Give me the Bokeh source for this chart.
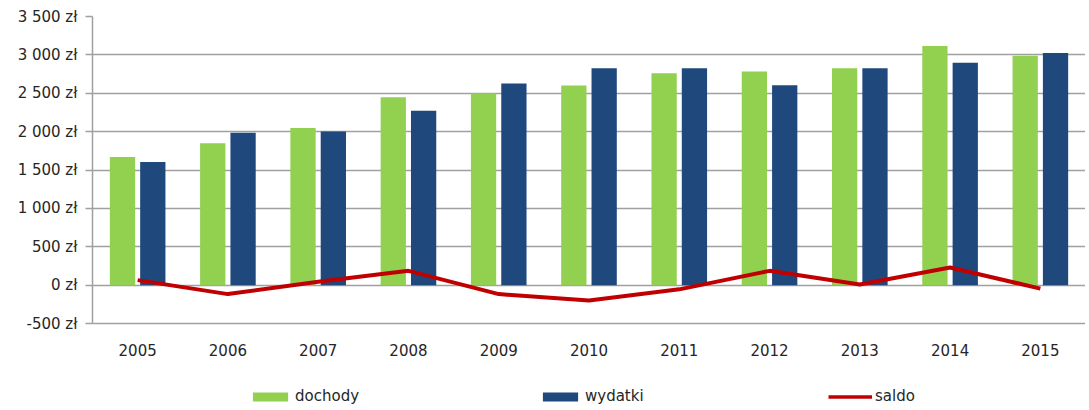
from bokeh.plotting import figure
from bokeh.models import FactorRange, Range1d, FixedTicker, Legend, LegendItem, ColumnDataSource
from bokeh.layouts import column
from bokeh.transform import dodge
from bokeh.embed import file_html
from bokeh.resources import INLINE

years = ["2005", "2006", "2007", "2008", "2009", "2010", "2011", "2012", "2013", "2014", "2015"]
dochody = [1669, 1847, 2046, 2449, 2501, 2601, 2761, 2783, 2826, 3117, 2987]
wydatki = [1604, 1985, 2003, 2271, 2627, 2826, 2826, 2605, 2826, 2896, 3026]
saldo = [65, -117, 43, 186, -117, -200, -55, 186, 9, 230, -45]
y_ticks = [-500, 0, 500, 1000, 1500, 2000, 2500, 3000, 3500]
y_tick_labels = ["-500 zł", "0 zł", "500 zł", "1 000 zł", "1 500 zł", "2 000 zł", "2 500 zł", "3 000 zł", "3 500 zł"]
series_names = ["dochody", "wydatki", "saldo"]

FONT = "DejaVu Sans"
FS = "15px"
TXT = "#262626"
GRID = "#A0A0A0"
GREEN, BLUE, RED = "#92D050", "#1F497D", "#C00000"
W = 1085

src = ColumnDataSource(dict(year=years, dochody=dochody, wydatki=wydatki, saldo=saldo))

p = figure(x_range=FactorRange(*years), y_range=Range1d(-500, 3500),
           width=W, height=380, output_backend="svg", toolbar_location=None,
           min_border_left=92, min_border_right=0, min_border_top=16, min_border_bottom=57)
p.outline_line_color = None


def draw_series(fig, lw=4):
    a = fig.vbar(x=dodge("year", -0.168, range=fig.x_range), top="dochody", width=0.28,
                 source=src, fill_color=GREEN, line_color=None)
    b = fig.vbar(x=dodge("year", 0.168, range=fig.x_range), top="wydatki", width=0.28,
                 source=src, fill_color=BLUE, line_color=None)
    c = fig.line(x="year", y="saldo", source=src, line_color=RED, line_width=lw)
    return a, b, c


draw_series(p)

p.xgrid.grid_line_color = None
p.ygrid.grid_line_color = GRID
p.ygrid.grid_line_width = 1.5

p.yaxis.ticker = FixedTicker(ticks=y_ticks)
p.yaxis.major_label_overrides = {t: l for t, l in zip(y_ticks, y_tick_labels)}
p.yaxis.axis_line_color = GRID
p.yaxis.axis_line_width = 1.5
p.yaxis.major_tick_line_color = GRID
p.yaxis.major_tick_line_width = 1.5
p.yaxis.major_tick_in = 0
p.yaxis.major_tick_out = 7
p.yaxis.minor_tick_line_color = None
p.yaxis.major_label_standoff = 8

p.xaxis.axis_line_color = GRID
p.xaxis.axis_line_width = 1.5
p.xaxis.major_tick_line_color = None
p.xaxis.minor_tick_line_color = None
p.xaxis.major_label_standoff = 14

for ax in (p.xaxis, p.yaxis):
    ax.major_label_text_font = FONT
    ax.major_label_text_font_size = FS
    ax.major_label_text_color = TXT

# legend strip: same series drawn into a y-range they never reach, only the legend shows
lf = figure(width=W, height=26, output_backend="svg", toolbar_location=None,
            x_range=p.x_range, y_range=Range1d(100000, 100001),
            min_border=0, min_border_left=0, min_border_right=0, min_border_top=0, min_border_bottom=0)
lf.axis.visible = False
lf.grid.visible = False
lf.outline_line_color = None
g1, g2, g3 = draw_series(lf, lw=3.5)

legend = Legend(items=[LegendItem(label=series_names[0], renderers=[g1]),
                       LegendItem(label=series_names[1], renderers=[g2]),
                       LegendItem(label=series_names[2], renderers=[g3])],
                orientation="horizontal", location=(156, 1),
                glyph_width=44, glyph_height=11, label_width=72, spacing=171,
                label_standoff=3, padding=0, margin=0,
                border_line_color=None, background_fill_alpha=0,
                label_text_font=FONT, label_text_font_size=FS, label_text_color=TXT)
lf.add_layout(legend, "center")

open("out.html", "w").write(file_html(column(p, lf), INLINE))
